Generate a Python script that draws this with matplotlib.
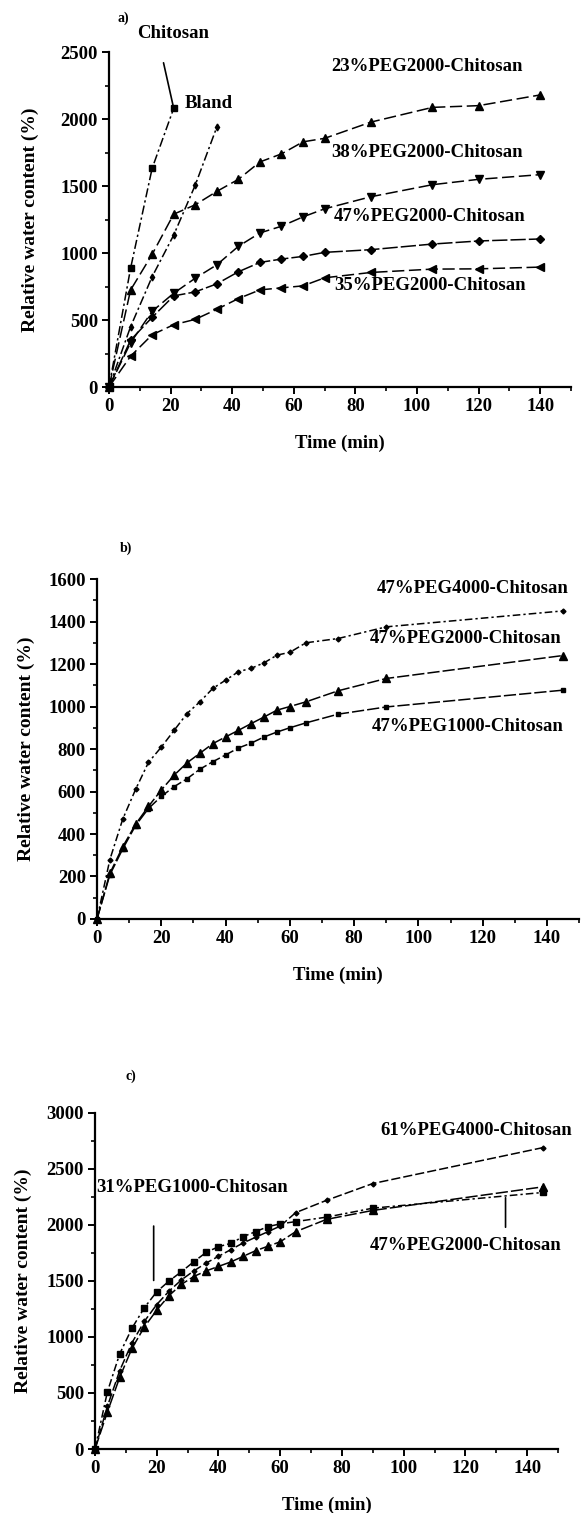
import matplotlib
matplotlib.use('Agg')
import matplotlib.pyplot as plt
from matplotlib.ticker import MultipleLocator

plt.rcParams['font.family'] = ['Liberation Serif', 'DejaVu Serif']
plt.rcParams['font.weight'] = 'bold'

# ---- panel a data (time in min, relative water content in %)
t_a = [0, 7, 14, 21, 28, 35, 42, 49, 56, 63, 70, 85, 105, 120, 140]
t_chitosan = [0, 7, 14, 21]
chitosan = [0, 886, 1632, 2080]
t_blend = [0, 7, 14, 21, 28, 35]
blend = [0, 450, 823, 1134, 1507, 1940]
peg23 = [0, 724, 990, 1290, 1360, 1460, 1550, 1680, 1740, 1830, 1856, 1977, 2087, 2100, 2180]
peg38 = [0, 330, 565, 700, 812, 912, 1050, 1150, 1200, 1270, 1330, 1420, 1510, 1550, 1585]
peg47 = [0, 350, 520, 680, 710, 770, 860, 930, 955, 975, 1005, 1025, 1067, 1090, 1105]
peg35 = [0, 230, 390, 465, 505, 580, 660, 725, 740, 755, 815, 855, 880, 882, 895]

# ---- panel b data
t_b = [0, 4, 8, 12, 16, 20, 24, 28, 32, 36, 40, 44, 48, 52, 56, 60, 65, 75, 90, 145]
peg4000_b = [0, 280, 470, 610, 737, 809, 888, 967, 1022, 1085, 1124, 1164, 1180, 1206, 1242, 1255, 1300, 1320, 1375, 1450]
peg2000_b = [0, 215, 340, 446, 530, 607, 677, 735, 780, 825, 857, 888, 920, 951, 983, 1000, 1022, 1074, 1132, 1240]
peg1000_b = [0, 208, 330, 440, 520, 577, 623, 660, 705, 740, 772, 805, 828, 857, 880, 900, 923, 964, 998, 1077]

# ---- panel c data
t_c = [0, 4, 8, 12, 16, 20, 24, 28, 32, 36, 40, 44, 48, 52, 56, 60, 65, 75, 90, 145]
peg1000_31 = [0, 510, 850, 1080, 1262, 1404, 1500, 1583, 1672, 1755, 1806, 1836, 1896, 1940, 1985, 2010, 2030, 2070, 2150, 2290]
peg4000_61 = [0, 380, 700, 950, 1140, 1290, 1410, 1510, 1590, 1660, 1720, 1780, 1840, 1890, 1940, 1990, 2110, 2220, 2370, 2690]
peg2000_47 = [0, 330, 640, 900, 1090, 1240, 1370, 1470, 1540, 1590, 1630, 1670, 1720, 1770, 1810, 1850, 1940, 2050, 2130, 2340]

x_ticks = [0, 20, 40, 60, 80, 100, 120, 140]

fig = plt.figure(figsize=(5.88, 15.13), dpi=100)

FS = 13.5  # text size used for ticks and curve labels

def style_axes(ax, ymax, ymajor, yminor):
    ax.set_xlim(0, 150)
    ax.set_ylim(0, ymax)
    ax.spines['top'].set_visible(False)
    ax.spines['right'].set_visible(False)
    ax.spines['left'].set_linewidth(1.6)
    ax.spines['bottom'].set_linewidth(1.6)
    ax.set_xticks(x_ticks)
    ax.xaxis.set_minor_locator(MultipleLocator(10))
    ax.yaxis.set_major_locator(MultipleLocator(ymajor))
    ax.yaxis.set_minor_locator(MultipleLocator(yminor))
    ax.tick_params(which='major', direction='out', length=5, width=1.4, labelsize=FS, pad=3)
    ax.tick_params(which='minor', direction='out', length=3, width=1.2)
    ax.set_xlabel('Time (min)', fontsize=13.5, fontweight='bold', labelpad=14)
    ax.set_ylabel('Relative water content (%)', fontsize=14, fontweight='bold')

kw = dict(color='black', lw=1.1, clip_on=False)
line_kw = dict(arrowstyle='-', color='black', lw=1.2)

# ================= a)
ax = fig.add_axes([0.1854, 0.7442, 0.7857, 0.2214])
style_axes(ax, 2500, 500, 250)
ax.plot(t_chitosan, chitosan, marker='s', ms=4, dashes=(6, 2, 1.5, 2), **kw)
ax.plot(t_blend, blend, marker='d', ms=3.5, dashes=(6, 2, 1.5, 2), **kw)
ax.plot(t_a, peg23, marker='^', ms=6, dashes=(8, 3), **kw)
ax.plot(t_a, peg38, marker='v', ms=6, dashes=(8, 3), **kw)
ax.plot(t_a, peg47, marker='D', ms=4.5, dashes=(10, 2), **kw)
ax.plot(t_a, peg35, marker='<', ms=6, dashes=(8, 3), **kw)
ax.yaxis.set_label_coords(-0.152, 0.5)
ax.text(2.6, 2724, 'a)', fontsize=10)
ax.text(9, 2604, 'Chitosan', fontsize=FS)
ax.annotate('', xy=(t_chitosan[-1], chitosan[-1]), xytext=(17.5, 2440), arrowprops=line_kw)
ax.text(24.6, 2082, 'Bland', fontsize=FS)
ax.text(72, 2356, '23%PEG2000-Chitosan', fontsize=FS)
ax.text(72, 1715, '38%PEG2000-Chitosan', fontsize=FS)
ax.text(73, 1241, '47%PEG2000-Chitosan', fontsize=FS)
ax.text(73, 754, '35%PEG2000-Chitosan', fontsize=FS, va='center')

# ================= b)
ax = fig.add_axes([0.165, 0.3926, 0.82, 0.2247])
style_axes(ax, 1600, 200, 100)
ax.plot(t_b, peg4000_b, marker='D', ms=2.5, dashes=(5, 2, 1.5, 2), **kw)
ax.plot(t_b, peg2000_b, marker='^', ms=6, dashes=(8, 2), **kw)
ax.plot(t_b, peg1000_b, marker='s', ms=3.5, dashes=(8, 2), **kw)
ax.yaxis.set_label_coords(-0.129, 0.5)
ax.text(7, 1730, 'b)', fontsize=10)
ax.text(87, 1534, '47%PEG4000-Chitosan', fontsize=FS)
ax.text(85, 1298, '47%PEG2000-Chitosan', fontsize=FS)
ax.text(85.5, 904, '47%PEG1000-Chitosan', fontsize=FS, va='center')

# ================= c)
ax = fig.add_axes([0.1616, 0.0423, 0.7874, 0.2221])
style_axes(ax, 3000, 500, 250)
ax.plot(t_c, peg1000_31, marker='s', ms=4, dashes=(5, 2, 1.5, 2), **kw)
ax.plot(t_c, peg4000_61, marker='D', ms=2.5, dashes=(6, 2), **kw)
ax.plot(t_c, peg2000_47, marker='^', ms=6, dashes=(8, 2), **kw)
ax.yaxis.set_label_coords(-0.136, 0.5)
ax.text(10, 3300, 'c)', fontsize=10)
ax.text(0.5, 2297, '31%PEG1000-Chitosan', fontsize=FS)
ax.annotate('', xy=(19, 1480), xytext=(19, 2015), arrowprops=line_kw)
ax.text(92.6, 2804, '61%PEG4000-Chitosan', fontsize=FS)
ax.annotate('', xy=(133, 2268), xytext=(133, 1955), arrowprops=line_kw)
ax.text(89, 1821, '47%PEG2000-Chitosan', fontsize=FS, va='center')

fig.savefig('out.png', dpi=100)
